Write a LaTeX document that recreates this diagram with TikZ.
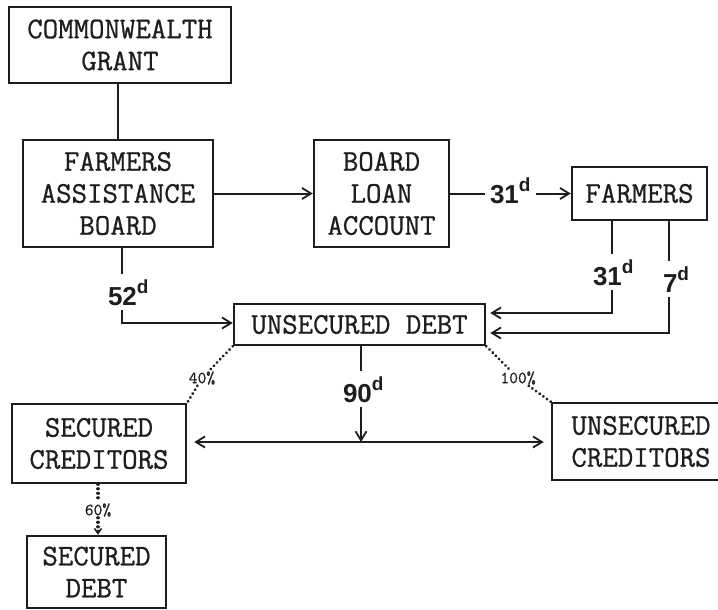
\documentclass[tikz,border=0pt]{standalone}
\usepackage{fontspec}
\usetikzlibrary{arrows.meta}
\newfontfamily\boxfam{Latin Modern Mono}[FakeBold=0.8]
\newfontfamily\numfam{Liberation Sans}
\newcommand\supd{\raisebox{12pt}{\fontsize{19}{19}\selectfont d}}
\definecolor{ink}{RGB}{30,30,30}
\tikzset{
  box/.style={draw=ink, line width=2.5pt, inner sep=0pt, align=center, text=ink,
    font=\boxfam\fontsize{30}{32}\selectfont},
  num/.style={inner sep=0pt, outer sep=5pt, text=ink,
    font=\numfam\bfseries\fontsize{26}{26}\selectfont},
  pct/.style={inner sep=1pt, text=ink, font=\boxfam\fontsize{17}{17}\selectfont},
  conn/.style={draw=ink, line width=2pt},
  arr/.style={conn, -{Straight Barb[length=9pt,width=11pt,line width=1.8pt]}},
  dotline/.style={draw=ink, line width=3.2pt, line cap=round, dash pattern=on 0.01pt off 4.5pt},
}
\begin{document}
\begin{tikzpicture}[x=1pt,y=-1pt]
\clip (0,0) rectangle (718,610);
\fill[white] (0,0) rectangle (718,610);
% boxes
\node[box, minimum width=222, minimum height=76] (cg) at (120,45) {COMMONWEALTH\\GRANT};
\node[box, minimum width=190, minimum height=107] (fab) at (118,193.5) {FARMERS\\ASSISTANCE\\BOARD};
\node[box, minimum width=135, minimum height=107] (bla) at (381.5,193.5) {BOARD\\LOAN\\ACCOUNT};
\node[box, minimum width=135, minimum height=53] (farm) at (639.5,193.5) {FARMERS};
\node[box, minimum width=251, minimum height=41] (ud) at (359.5,324.5) {UNSECURED DEBT};
\node[box, minimum width=174, minimum height=79] (sc) at (99,443.5) {SECURED\\CREDITORS};
\node[box, minimum width=178, minimum height=77] (ucr) at (641,441.5) {UNSECURED\\CREDITORS};
\node[box, minimum width=139, minimum height=72] (sd) at (96.5,572) {SECURED\\DEBT};
% labels
\node[num, anchor=base west] (l31a) at (485,203) {31\supd};
\node[num, anchor=base west] (l31b) at (588,285) {31\supd};
\node[num, anchor=base west] (l7) at (658,292) {7\supd};
\node[num, anchor=base west] (l52) at (103,305) {52\supd};
\node[num, anchor=base west] (l90) at (338,402) {90\supd};
\node[pct] (l40) at (202,378) {40\%};
\node[pct] (l100) at (518,378) {100\%};
\node[pct] (l60) at (98,510) {60\%};
% bend coordinates
\coordinate (b52) at (122,323);
\coordinate (f1) at (612,313);
\coordinate (f2) at (669,333);
\coordinate (mid) at (361,442);
% connectors
\draw[conn] (fab.north |- cg.south) -- (fab.north);
\draw[arr] (fab) -- (bla);
\draw[conn] (bla.east) -- (bla.east -| l31a.west);
\draw[arr] (l31a.east |- farm.west) -- (farm.west);
\draw[conn] (fab.south -| b52) -- (l52.north -| b52);
\draw[arr] (l52.south -| b52) -- (b52) -- (ud.west |- b52);
\draw[conn] (farm.south -| f1) -- (l31b.north -| f1);
\draw[arr] (l31b.south -| f1) -- (f1) -- ([xshift=4pt]ud.east |- f1);
\draw[conn] (farm.south -| f2) -- (l7.north -| f2);
\draw[arr] (l7.south -| f2) -- (f2) -- ([xshift=4pt]ud.east |- f2);
\draw[conn] (ud.south -| mid) -- (l90.north -| mid);
\draw[arr] (l90.south -| mid) -- (mid);
\draw[arr, {Straight Barb[length=9pt,width=11pt,line width=1.8pt]}-{Straight Barb[length=9pt,width=11pt,line width=1.8pt]}, shorten <=7pt, shorten >=7pt] (sc.east |- mid) -- (ucr.west |- mid);
\draw[dotline] (ud.south west) -- (l40) -- (sc.north east);
\draw[dotline] (ud.south east) -- (l100) -- (ucr.north west);
\draw[dotline] (sc.south -| l60) -- (l60);
\draw[dotline, -{Straight Barb[length=5pt,width=7pt,line width=1.5pt]}] (l60) -- (sd.north -| l60);
\end{tikzpicture}
\end{document}
